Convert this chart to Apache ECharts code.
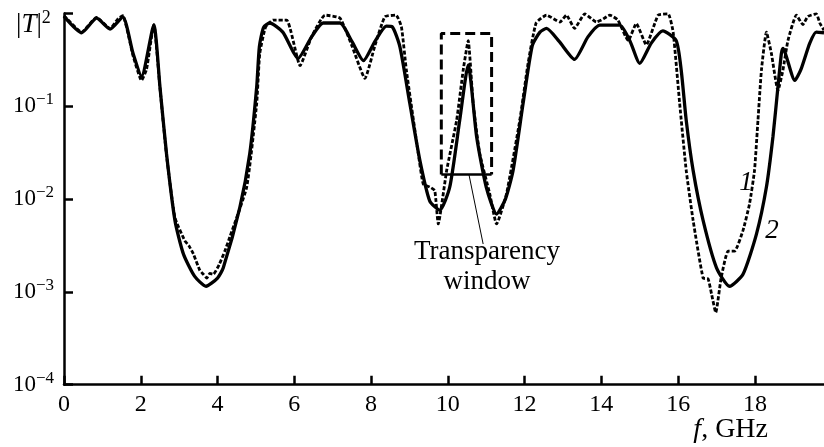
<!DOCTYPE html>
<html>
<head>
<meta charset="utf-8">
<script src="https://cdn.jsdelivr.net/npm/echarts@6/dist/echarts.min.js"></script>
<style>html,body{margin:0;padding:0;background:#fff}#c{width:824px;height:447px}</style>
</head>
<body>
<div id="c"></div>
<script>
// Curve 2 (solid)
const f2 = [0.0,0.46,0.85,1.2,1.53,1.8,2.02,2.34,2.5,2.67,2.89,3.11,3.4,3.7,4.0,4.15,4.58,4.84,5.02,5.09,5.2,5.36,5.7,6.1,6.45,6.75,7.19,7.5,7.8,8.1,8.4,8.55,8.75,9.01,9.27,9.53,9.79,10.05,10.31,10.53,10.75,11.0,11.27,11.5,11.7,11.96,12.2,12.4,12.57,12.9,13.3,13.65,13.96,14.48,14.75,15.0,15.3,15.6,15.95,16.08,16.21,16.39,16.65,17.0,17.34,17.69,18.04,18.3,18.47,18.6,18.69,18.73,19.04,19.2,19.43,19.6,19.8];
const t2 = [0.93,0.62,0.89,0.68,0.92,0.37,0.21,0.75,0.162,0.031,0.0059,0.00257,0.00148,0.00115,0.00141,0.00182,0.0081,0.031,0.162,0.44,0.71,0.79,0.63,0.33,0.56,0.79,0.79,0.5,0.31,0.5,0.73,0.72,0.44,0.107,0.0263,0.0095,0.0076,0.0135,0.071,0.28,0.047,0.0135,0.0069,0.01,0.0204,0.107,0.45,0.63,0.69,0.5,0.32,0.56,0.75,0.75,0.5,0.29,0.48,0.65,0.51,0.245,0.071,0.0204,0.0059,0.00182,0.00115,0.00155,0.0042,0.0135,0.047,0.162,0.37,0.42,0.19,0.25,0.48,0.63,0.62];
// Curve 1 (dashed)
const f1 = [0.0,0.46,0.85,1.2,1.4,1.53,1.8,2.02,2.15,2.34,2.5,2.67,2.89,3.15,3.25,3.37,3.54,3.63,3.72,3.8,3.89,4.05,4.19,4.32,4.76,5.02,5.1,5.25,5.45,5.8,6.15,6.45,6.8,7.19,7.5,7.84,8.1,8.36,8.65,8.79,8.92,9.23,9.36,9.53,9.66,9.75,9.97,10.23,10.4,10.53,10.66,10.83,11.09,11.27,11.53,11.875,12.09,12.3,12.57,12.92,13.09,13.3,13.57,13.87,14.0,14.22,14.43,14.7,14.91,15.17,15.48,15.74,15.87,16.04,16.21,16.39,16.65,16.78,16.87,16.98,17.12,17.3,17.47,17.69,17.86,17.99,18.08,18.17,18.3,18.43,18.6,18.73,18.86,19.08,19.25,19.38,19.6,19.69,19.8];
const t1 = [0.95,0.63,0.91,0.69,0.87,0.95,0.35,0.19,0.25,0.76,0.158,0.030,0.0063,0.00355,0.00316,0.00257,0.0017,0.00155,0.00141,0.00158,0.00155,0.002,0.00275,0.0039,0.0135,0.107,0.37,0.71,0.85,0.85,0.275,0.56,0.96,0.89,0.45,0.2,0.45,0.92,0.96,0.72,0.245,0.031,0.0145,0.0135,0.0123,0.0054,0.0204,0.071,0.245,0.51,0.107,0.031,0.0115,0.0054,0.0115,0.071,0.29,0.79,0.96,0.81,0.96,0.69,0.99,0.81,0.85,0.96,0.85,0.51,0.78,0.46,0.96,0.99,0.63,0.107,0.0204,0.0059,0.00141,0.00138,0.00095,0.0006,0.00141,0.00275,0.00275,0.0046,0.0089,0.0204,0.071,0.245,0.63,0.37,0.148,0.245,0.51,0.96,0.76,0.93,0.99,0.79,0.66];
// Transparency window box
const boxF = [9.83, 11.14];
const boxT = [0.0184, 0.61];
const leaderF = [10.55, 10.92];
const leaderT = [0.0184, 0.00328];
const xTicks = [0,2,4,6,8,10,12,14,16,18];

const pair = (a,b) => a.map((v,i)=>[v,b[i]]);
const serif = '"Liberation Serif", "DejaVu Serif", serif';

const chart = echarts.init(document.getElementById('c'));
chart.setOption({
  animation: false,
  grid: {left: 64, right: 0, top: 13.5, bottom: 62.3},
  xAxis: {
    type: 'value', min: 0, max: 19.8, interval: 2,
    axisLine: {onZero: false, lineStyle: {color: '#000', width: 2.5}},
    axisTick: {inside: true, length: 9, lineStyle: {color: '#000', width: 2.5}},
    axisLabel: {color: '#000', fontFamily: serif, fontSize: 24, margin: 8, showMaxLabel: false,
      formatter: v => xTicks.indexOf(v) >= 0 ? String(v) : ''},
    splitLine: {show: false}
  },
  yAxis: {
    type: 'log', logBase: 10, min: 1e-4, max: 1,
    axisLine: {lineStyle: {color: '#000', width: 2.5}},
    axisTick: {inside: true, length: 9, lineStyle: {color: '#000', width: 2.5}},
    axisLabel: {color: '#000', fontFamily: serif, margin: 10,
      formatter: v => { const e = Math.round(Math.log10(v)); if (e === 0) return ''; return '{b|10}{s|−' + (-e) + '}'; },
      rich: {
        b: {fontFamily: serif, fontSize: 23, color: '#000'},
        s: {fontFamily: serif, fontSize: 17, color: '#000', padding: [0,0,13,0]}
      }
    },
    splitLine: {show: false}
  },
  series: [
    {type: 'line', data: pair(f1, t1), showSymbol: false, smooth: 0.15, z: 3,
      lineStyle: {color: '#000', width: 2.8, type: [4, 2]}},
    {type: 'line', data: pair(f2, t2), showSymbol: false, smooth: 0.2, z: 2,
      lineStyle: {color: '#000', width: 3.3}},
    {type: 'line', data: [[boxF[0], boxT[0]], [boxF[0], boxT[1]], [boxF[1], boxT[1]], [boxF[1], boxT[0]]],
      showSymbol: false, z: 4, lineStyle: {color: '#000', width: 3, type: [10, 5]}},
    {type: 'line', data: [[boxF[0], boxT[0]], [boxF[1], boxT[0]]],
      showSymbol: false, z: 4, lineStyle: {color: '#000', width: 2.5}},
    {type: 'line', data: pair(leaderF, leaderT), showSymbol: false, z: 4,
      lineStyle: {color: '#000', width: 1}}
  ],
  graphic: [
    {type: 'text', left: 16, top: 9, style: {text: '|{i|T}|{s|2}', fontFamily: serif, fontSize: 27, fill: '#000',
      rich: {i: {fontFamily: serif, fontSize: 27, fontStyle: 'italic', fill: '#000'},
             s: {fontFamily: serif, fontSize: 18, fill: '#000', padding: [0,0,14,0]}}}},
    {type: 'text', right: 56, top: 416, style: {text: '{i|f}, GHz', fontFamily: serif, fontSize: 28, fill: '#000',
      rich: {i: {fontFamily: serif, fontSize: 28, fontStyle: 'italic', fill: '#000'}}}},
    {type: 'text', x: 487, y: 267, style: {text: 'Transparency\nwindow', fontFamily: serif, fontSize: 27, lineHeight: 30,
      fill: '#000', align: 'center', verticalAlign: 'middle'}},
    {type: 'text', x: 746, y: 183, style: {text: '1', fontFamily: serif, fontSize: 27, fontStyle: 'italic', fill: '#000', align: 'center', verticalAlign: 'middle'}},
    {type: 'text', x: 772, y: 231, style: {text: '2', fontFamily: serif, fontSize: 27, fontStyle: 'italic', fill: '#000', align: 'center', verticalAlign: 'middle'}}
  ]
});
</script>
</body>
</html>
